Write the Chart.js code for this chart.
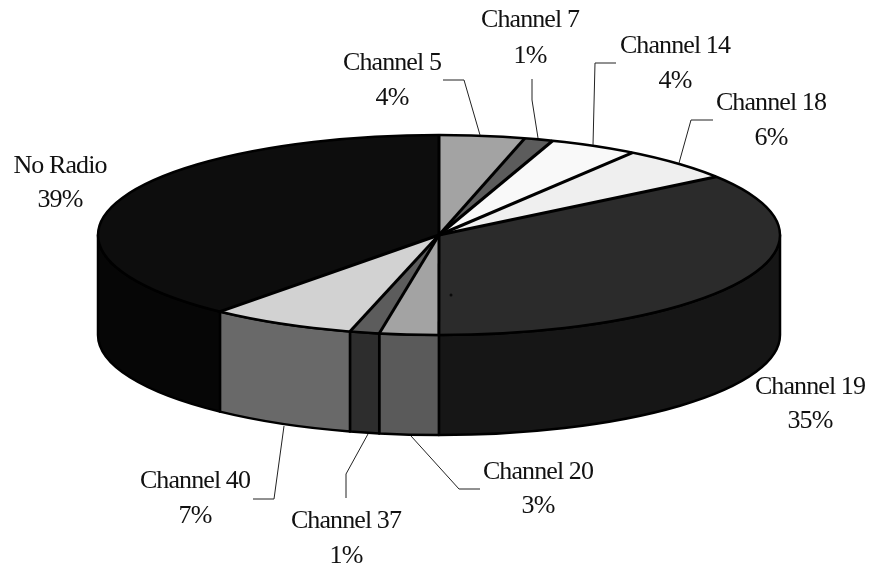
<!DOCTYPE html>
<html>
<head>
<meta charset="utf-8">
<style>
  html, body { margin: 0; padding: 0; background: #fff; }
  canvas { display: block; }
</style>
<script src="https://cdn.jsdelivr.net/npm/chart.js@4/dist/chart.umd.min.js"></script>
</head>
<body>
<canvas id="chart" width="870" height="569"></canvas>
<script>
const categories = ['Channel 5', 'Channel 7', 'Channel 14', 'Channel 18', 'Channel 19', 'Channel 20', 'Channel 37', 'Channel 40', 'No Radio'];
const shares = [4.05, 1.36, 4.2, 5.5, 34.9, 2.8, 1.4, 6.9, 38.9];
const percentLabels = ['4%', '1%', '4%', '6%', '35%', '3%', '1%', '7%', '39%'];

const topColors = ['#a3a3a3', '#5c5c5c', '#f9f9f9', '#efefef', '#2b2b2b', '#a3a3a3', '#5c5c5c', '#d2d2d2', '#0d0d0d'];
const wallColors = ['#5a5a5a', '#2d2d2d', '#7c7c7c', '#777777', '#161616', '#5a5a5a', '#2d2d2d', '#696969', '#060606'];

// Pie shape on screen: the library's circle gets squashed to this ellipse
const RX = 341;
const RY = 100;
const DEPTH = 100;

// Label centres (name line, percent line) and leader lines
const labelPos = [
    [392, 63, 98], [530, 20, 56], [675, 46, 81], [771, 103, 138], [810, 387, 421],
    [538, 472, 506], [346, 521, 556], [195, 481, 516], [60, 166, 200]
];
const leaders = [
    [[443, 80], [464, 80], [480, 135]],
    [[532, 79], [532, 100], [538, 138]],
    [[616, 63], [595, 63], [593, 145]],
    [[713, 120], [691, 120], [679, 163]],
    null,
    [[411, 436], [459, 489], [480, 489]],
    [[346, 498], [346, 474], [368, 434]],
    [[253, 499], [274, 499], [284, 426]],
    null
];

const pie3d = {
    id: 'pie3d',
    beforeDatasetsDraw(chart) {
        const ctx = chart.ctx;
        const arcs = chart.getDatasetMeta(0).data;
        const cx = arcs[0].x, cy = arcs[0].y, r = arcs[0].outerRadius;

        // side walls, only the front half of the rim shows
        ctx.save();
        ctx.strokeStyle = '#000';
        ctx.lineWidth = 2.5;
        ctx.lineJoin = 'round';
        arcs.forEach((arc, i) => {
            const a = Math.max(arc.startAngle, 0);
            const b = Math.min(arc.endAngle, Math.PI);
            if (b <= a) return;
            ctx.beginPath();
            ctx.ellipse(cx, cy, RX, RY, 0, a, b);
            ctx.ellipse(cx, cy + DEPTH, RX, RY, 0, b, a, true);
            ctx.closePath();
            ctx.fillStyle = wallColors[i];
            ctx.fill();
            ctx.stroke();
        });
        ctx.restore();

        ctx.save();
        ctx.translate(cx, cy);
        ctx.scale(RX / r, RY / r);
        ctx.translate(-cx, -cy);
    },
    afterDatasetsDraw(chart) {
        const ctx = chart.ctx;
        ctx.restore();

        const arcs = chart.getDatasetMeta(0).data;
        const cx = arcs[0].x, cy = arcs[0].y;

        // outlines are drawn unscaled so the stroke stays even
        ctx.save();
        ctx.strokeStyle = '#000';
        ctx.lineWidth = 2.5;
        ctx.beginPath();
        ctx.ellipse(cx, cy, RX, RY, 0, 0, Math.PI * 2);
        ctx.stroke();
        ctx.lineWidth = 3;
        arcs.forEach(arc => {
            ctx.beginPath();
            ctx.moveTo(cx, cy);
            ctx.lineTo(cx + RX * Math.cos(arc.startAngle), cy + RY * Math.sin(arc.startAngle));
            ctx.stroke();
        });

        // stray speck on the Channel 19 slice
        ctx.fillStyle = '#0a0a0a';
        ctx.beginPath();
        ctx.arc(451, 295, 1.5, 0, Math.PI * 2);
        ctx.fill();

        // leader lines
        ctx.lineWidth = 1;
        ctx.strokeStyle = '#222';
        leaders.forEach(pts => {
            if (!pts) return;
            ctx.beginPath();
            pts.forEach((p, k) => k ? ctx.lineTo(p[0], p[1]) : ctx.moveTo(p[0], p[1]));
            ctx.stroke();
        });

        // labels, taller type squeezed to the same width as the original
        ctx.fillStyle = '#111';
        ctx.font = '26px "Liberation Serif"';
        ctx.letterSpacing = '-0.9px';
        ctx.textAlign = 'center';
        ctx.textBaseline = 'middle';
        categories.forEach((name, i) => {
            const [x, y1, y2] = labelPos[i];
            ctx.fillText(name, x, y1);
            ctx.fillText(percentLabels[i], x, y2);
        });
        ctx.restore();
    }
};

new Chart(document.getElementById('chart'), {
    type: 'pie',
    data: {
        labels: categories,
        datasets: [{
            data: shares,
            backgroundColor: topColors,
            borderWidth: 0,
            clip: false
        }]
    },
    options: {
        responsive: false,
        animation: false,
        layout: { padding: { left: 8, right: 0, top: 0, bottom: 99 } },
        plugins: {
            legend: { display: false },
            tooltip: { enabled: false }
        }
    },
    plugins: [pie3d]
});
</script>
</body>
</html>
